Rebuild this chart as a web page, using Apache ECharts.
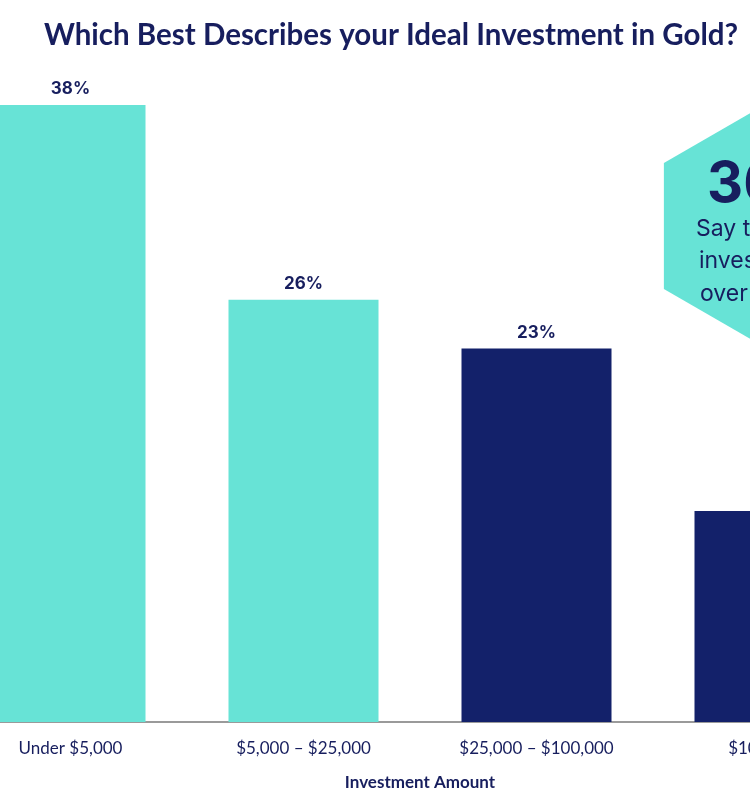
<!DOCTYPE html>
<html>
<head>
<meta charset="utf-8">
<script src="https://cdn.jsdelivr.net/npm/echarts@6/dist/echarts.min.js"></script>
<style>
  html, body { margin: 0; padding: 0; background: #ffffff; overflow: hidden; }
  #view { position: relative; width: 750px; height: 800px; overflow: hidden; background: #fff; }
  #chart { position: absolute; left: -46px; top: 0; width: 960px; height: 800px; }
</style>
</head>
<body>
<div id="view"><div id="chart"></div></div>
<script>
const categories = ['Under $5,000', '$5,000 – $25,000', '$25,000 – $100,000', '$100,000+'];
const values = [38, 26, 23, 13];
const barColors = ['#67E3D6', '#67E3D6', '#13216A', '#13216A'];
const calloutBig = '36%';
const calloutLines = ["Say they'd", 'invest', 'over $25,000'];

const OX = 46; // offset of the inner chart relative to visible view
const navy = '#171E5E';
const chart = echarts.init(document.getElementById('chart'), null, { renderer: 'canvas' });

// hexagon (pointy top, vertical sides) centred at view (773,225), side 126
const hc = [773 + OX, 226], s = 126, hw = s * Math.sqrt(3) / 2;
const hexPts = [
  [hc[0], hc[1] - s], [hc[0] + hw, hc[1] - s / 2], [hc[0] + hw, hc[1] + s / 2],
  [hc[0], hc[1] + s], [hc[0] - hw, hc[1] + s / 2], [hc[0] - hw, hc[1] - s / 2]
];

chart.setOption({
  animation: false,
  backgroundColor: '#ffffff',
  title: {
    text: 'Which Best Describes your Ideal Investment in Gold?',
    left: 386 + OX,
    top: 15,
    textAlign: 'center',
    textStyle: { fontFamily: 'Lato', fontWeight: 'bold', fontSize: 29.5, color: navy }
  },
  grid: { left: 0, right: 28, top: 72.4, bottom: 78, containLabel: false, outerBoundsMode: 'none' },
  xAxis: {
    type: 'category',
    data: categories,
    name: 'Investment Amount',
    nameLocation: 'middle',
    nameGap: 52,
    nameTextStyle: { fontFamily: 'Lato', fontWeight: 'bold', fontSize: 17, color: navy },
    axisLine: { lineStyle: { color: '#7a7a7a', width: 1.5 } },
    axisTick: { show: false },
    axisLabel: { fontFamily: 'Lato', fontSize: 17, color: navy, margin: 18 }
  },
  yAxis: {
    type: 'value', min: 0, max: 40,
    show: false,
    splitLine: { show: false }
  },
  series: [{
    type: 'bar',
    barWidth: 150,
    data: values.map((v, i) => ({ value: v, itemStyle: { color: barColors[i] } })),
    label: {
      show: true, position: 'top', distance: 7,
      formatter: '{c}%',
      fontFamily: 'Inter', fontWeight: 'bold', fontSize: 17, color: navy
    }
  }],
  graphic: [
    { type: 'polygon', z: 10, shape: { points: hexPts }, style: { fill: '#67E3D6' } },
    { type: 'text', z: 11, left: 707 + OX, top: 157,
      style: { text: calloutBig, fontFamily: 'Inter', fontWeight: 'bold', fontSize: 56, fill: navy } },
    { type: 'text', z: 11, left: 696 + OX, top: 218,
      style: { text: calloutLines[0], fontFamily: 'Inter', fontSize: 23, fill: navy } },
    { type: 'text', z: 11, left: 699 + OX, top: 250,
      style: { text: calloutLines[1], fontFamily: 'Inter', fontSize: 23, fill: navy } },
    { type: 'text', z: 11, left: 700 + OX, top: 283,
      style: { text: calloutLines[2], fontFamily: 'Inter', fontSize: 23, fill: navy } }
  ]
});
</script>
</body>
</html>
